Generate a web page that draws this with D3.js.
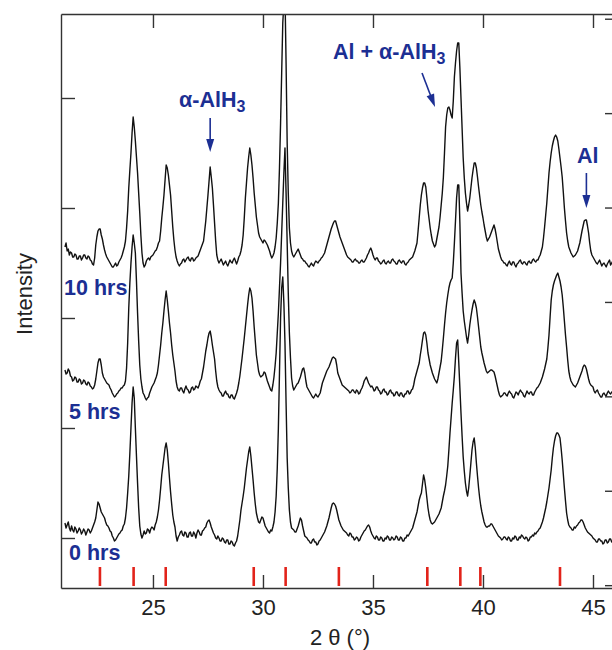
<!DOCTYPE html>
<html>
<head>
<meta charset="utf-8">
<script src="https://cdn.jsdelivr.net/npm/d3@7"></script>
<style>
  body { margin: 0; background: #fff; }
  svg { display: block; }
  text { font-family: "Liberation Sans", Arial, Helvetica, sans-serif; }
</style>
</head>
<body>
<svg id="chart" width="612" height="650"></svg>
<script>
// XRD scans sampled every 0.05 degree of 2-theta, from 21.00 to 46.00
// (one row per degree: x.00, x.05, ... x.95)
const twoThetaStart = 21.0;
const twoThetaStep = 0.05;

const counts0h = [
  65, 60, 63, 66, 60, 57, 62, 58, 56, 61, 59, 55, 57, 60, 58, 54, 56, 59, 57, 53,
  56, 59, 58, 55, 57, 60, 63, 66, 70, 78, 86, 84, 80, 76, 74, 72, 70, 66, 63, 62,
  60, 57, 56, 52, 50, 47, 48, 50, 52, 54, 55, 57, 58, 62, 64, 70, 80, 95, 112, 135,
  160, 185, 201, 190, 160, 132, 105, 80, 62, 54, 50, 53, 57, 54, 55, 59, 58, 55, 59, 61,
  60, 58, 63, 66, 71, 78, 88, 100, 113, 122, 131, 140, 145, 138, 125, 110, 96, 84, 73, 66,
  61, 52, 47, 51, 53, 56, 57, 53, 52, 56, 55, 51, 51, 55, 56, 52, 52, 56, 54, 50,
  55, 58, 56, 53, 53, 57, 58, 60, 61, 65, 67, 68, 65, 61, 58, 55, 53, 50, 49, 52,
  50, 47, 47, 50, 49, 46, 45, 48, 48, 44, 44, 47, 46, 43, 42, 45, 47, 52, 60, 68,
  78, 85, 92, 100, 110, 120, 128, 136, 141, 132, 120, 108, 95, 84, 75, 70, 66, 65, 68, 71,
  70, 66, 62, 60, 58, 56, 55, 58, 57, 61, 66, 76, 92, 120, 160, 215, 270, 300, 311, 285,
  245, 185, 130, 100, 78, 66, 60, 59, 58, 56, 56, 59, 62, 66, 70, 68, 62, 57, 52, 51,
  50, 48, 47, 45, 45, 48, 49, 46, 46, 43, 44, 47, 48, 50, 52, 54, 56, 59, 62, 66,
  70, 75, 80, 84, 85, 84, 82, 78, 73, 68, 65, 62, 60, 58, 57, 56, 55, 53, 52, 55,
  54, 51, 51, 48, 49, 51, 50, 47, 48, 51, 53, 55, 57, 58, 60, 62, 63, 61, 57, 54,
  52, 50, 49, 52, 51, 48, 48, 51, 50, 47, 47, 50, 49, 52, 51, 48, 48, 51, 50, 48,
  49, 52, 51, 48, 48, 51, 50, 47, 47, 50, 50, 53, 52, 54, 56, 58, 60, 64, 68, 72,
  76, 82, 88, 92, 95, 104, 113, 108, 100, 90, 80, 73, 68, 65, 64, 65, 66, 68, 70, 72,
  74, 77, 80, 86, 92, 97, 103, 112, 122, 138, 155, 170, 185, 198, 212, 230, 245, 248, 225, 200,
  175, 152, 131, 117, 105, 97, 92, 100, 112, 125, 138, 146, 150, 140, 125, 112, 100, 90, 82, 76,
  71, 66, 63, 61, 61, 62, 62, 64, 64, 62, 60, 58, 56, 54, 52, 51, 50, 48, 49, 51,
  51, 49, 48, 51, 50, 47, 47, 50, 49, 52, 51, 48, 48, 51, 50, 53, 52, 50, 49, 51,
  50, 47, 48, 51, 51, 53, 52, 55, 54, 56, 57, 59, 60, 63, 66, 70, 75, 80, 86, 93,
  100, 109, 118, 130, 140, 147, 152, 155, 155, 153, 150, 140, 128, 114, 100, 87, 75, 68, 63, 61,
  60, 58, 58, 61, 60, 62, 63, 65, 66, 68, 68, 66, 63, 60, 58, 56, 55, 54, 53, 52,
  50, 49, 48, 46, 46, 49, 49, 47, 47, 44, 45, 48, 48, 45, 46, 49, 49, 46, 47, 49,
  48
];

const counts5h = [
  73, 69, 70, 74, 72, 67, 66, 62, 63, 66, 65, 61, 61, 64, 63, 59, 60, 63, 62, 59,
  58, 61, 60, 57, 56, 54, 55, 58, 64, 72, 80, 84, 84, 78, 70, 66, 64, 62, 60, 59,
  58, 55, 53, 50, 48, 46, 47, 49, 50, 52, 53, 55, 55, 57, 58, 62, 75, 100, 135, 160,
  180, 196, 208, 200, 190, 162, 130, 102, 78, 64, 56, 50, 48, 45, 43, 45, 46, 50, 53, 56,
  58, 60, 63, 66, 70, 78, 88, 98, 110, 120, 132, 143, 152, 143, 132, 120, 110, 98, 88, 80,
  72, 62, 56, 53, 52, 55, 55, 52, 50, 54, 57, 54, 53, 50, 51, 55, 56, 53, 54, 57,
  56, 55, 58, 62, 64, 70, 76, 84, 92, 98, 105, 110, 112, 106, 98, 91, 84, 72, 62, 56,
  53, 51, 50, 47, 47, 50, 52, 49, 49, 46, 45, 48, 48, 45, 44, 47, 50, 54, 60, 67,
  76, 85, 95, 105, 116, 127, 138, 148, 155, 152, 145, 132, 116, 102, 88, 80, 72, 68, 66, 67,
  68, 71, 70, 66, 62, 59, 56, 53, 52, 58, 66, 77, 90, 110, 130, 155, 180, 210, 240, 270,
  295, 250, 200, 150, 110, 85, 65, 57, 53, 55, 57, 59, 60, 63, 66, 70, 74, 75, 70, 62,
  56, 54, 52, 50, 48, 46, 45, 47, 49, 47, 46, 48, 50, 55, 60, 63, 66, 69, 72, 74,
  76, 79, 82, 85, 86, 85, 84, 78, 70, 67, 64, 61, 58, 57, 56, 55, 54, 53, 52, 50,
  51, 53, 53, 51, 50, 53, 52, 49, 50, 53, 55, 58, 62, 64, 66, 63, 60, 58, 56, 57,
  55, 52, 53, 56, 56, 53, 52, 49, 50, 53, 54, 51, 51, 48, 49, 52, 53, 50, 50, 47,
  48, 51, 51, 48, 47, 50, 50, 47, 46, 49, 49, 52, 52, 49, 50, 53, 54, 58, 64, 68,
  72, 76, 80, 88, 95, 103, 110, 111, 108, 100, 90, 84, 78, 74, 70, 67, 64, 62, 60, 64,
  70, 76, 82, 93, 105, 118, 130, 140, 148, 155, 160, 163, 165, 180, 200, 222, 245, 258, 258, 220,
  170, 150, 132, 122, 114, 106, 100, 108, 118, 126, 133, 139, 143, 140, 135, 126, 116, 106, 96, 90,
  85, 80, 76, 72, 70, 71, 72, 73, 73, 72, 71, 67, 62, 57, 52, 48, 46, 47, 48, 50,
  50, 48, 47, 50, 52, 50, 49, 46, 45, 48, 51, 50, 48, 51, 53, 51, 50, 47, 46, 49,
  52, 50, 49, 51, 51, 48, 48, 51, 53, 55, 56, 58, 60, 63, 66, 70, 74, 79, 84, 95,
  108, 126, 143, 152, 158, 162, 165, 168, 170, 166, 162, 156, 148, 136, 122, 108, 96, 83, 72, 66,
  62, 60, 58, 57, 56, 58, 60, 63, 66, 69, 72, 76, 78, 77, 74, 69, 64, 60, 58, 57,
  56, 52, 50, 52, 53, 50, 48, 46, 46, 49, 50, 48, 47, 50, 52, 50, 49, 51, 51, 48,
  50
];

const counts10h = [
  66, 70, 62, 64, 58, 61, 60, 56, 56, 59, 58, 54, 54, 57, 57, 53, 55, 58, 58, 55,
  54, 57, 56, 53, 52, 49, 48, 55, 68, 76, 82, 84, 84, 78, 74, 68, 63, 59, 56, 54,
  52, 50, 48, 46, 46, 48, 50, 47, 48, 51, 53, 55, 58, 62, 66, 72, 85, 102, 125, 143,
  160, 180, 196, 186, 172, 156, 140, 120, 100, 78, 60, 50, 46, 48, 52, 54, 55, 53, 56, 57,
  58, 60, 62, 63, 66, 70, 72, 82, 95, 106, 118, 133, 148, 145, 138, 128, 118, 102, 86, 73,
  63, 56, 52, 49, 47, 49, 50, 53, 54, 51, 53, 55, 56, 53, 52, 55, 55, 52, 53, 55,
  56, 57, 60, 63, 66, 69, 72, 82, 92, 105, 118, 132, 146, 136, 125, 108, 90, 72, 58, 53,
  50, 52, 54, 51, 48, 50, 52, 49, 47, 50, 53, 51, 50, 53, 55, 52, 49, 52, 56, 58,
  62, 68, 78, 95, 115, 130, 145, 156, 165, 158, 148, 135, 120, 108, 96, 88, 80, 76, 74, 72,
  70, 73, 72, 70, 68, 65, 62, 58, 55, 57, 60, 66, 75, 90, 110, 145, 190, 240, 290, 310,
  320, 250, 170, 120, 85, 70, 62, 58, 56, 58, 60, 62, 64, 61, 58, 55, 54, 52, 52, 50,
  49, 47, 46, 48, 50, 48, 47, 50, 52, 51, 50, 52, 53, 55, 56, 58, 60, 64, 68, 72,
  76, 80, 84, 87, 90, 92, 92, 88, 84, 80, 76, 73, 70, 67, 64, 61, 58, 56, 55, 54,
  53, 51, 51, 53, 54, 52, 52, 50, 50, 52, 53, 51, 51, 53, 55, 58, 60, 63, 65, 62,
  58, 55, 53, 55, 55, 52, 51, 49, 50, 52, 53, 50, 49, 51, 52, 50, 50, 53, 54, 52,
  51, 49, 49, 52, 53, 51, 50, 52, 52, 49, 48, 50, 51, 53, 54, 55, 56, 59, 62, 66,
  70, 82, 95, 108, 118, 125, 130, 130, 126, 115, 103, 94, 85, 78, 72, 69, 66, 68, 74, 80,
  86, 96, 108, 120, 136, 160, 186, 198, 205, 206, 203, 198, 195, 212, 236, 250, 262, 270, 270, 245,
  215, 185, 155, 135, 120, 110, 102, 108, 115, 125, 135, 143, 150, 150, 145, 136, 126, 117, 108, 101,
  95, 88, 82, 76, 72, 74, 76, 79, 82, 85, 88, 84, 78, 71, 64, 60, 56, 53, 52, 50,
  50, 48, 47, 50, 52, 49, 48, 51, 51, 48, 46, 49, 50, 52, 53, 50, 49, 51, 51, 49,
  48, 51, 52, 50, 50, 53, 54, 52, 51, 53, 53, 56, 58, 62, 66, 75, 86, 98, 110, 125,
  140, 151, 160, 167, 172, 176, 178, 176, 172, 164, 155, 146, 136, 121, 105, 92, 80, 72, 66, 63,
  60, 58, 56, 57, 58, 60, 62, 66, 70, 76, 82, 87, 92, 93, 93, 87, 80, 70, 62, 58,
  56, 54, 52, 50, 49, 51, 53, 50, 47, 49, 50, 48, 46, 49, 51, 53, 48, 50, 52, 51,
  50
];

const seriesNames = ["0 hrs", "5 hrs", "10 hrs"];
const seriesCounts = [counts0h, counts5h, counts10h];
const seriesOffsets = [0, 145, 275];

// reference reflection positions (2-theta, degrees)
const refPeaks = [22.59, 24.12, 25.58, 29.58, 31.03, 33.45, 37.47, 38.97, 39.88, 43.5];

const xTicks = [25, 30, 35, 40, 45];
const leftTicks = [50, 160, 270, 380, 490];
const rightTicks = [0, 1, 2, 3, 4, 5, 6];

// ---- layout ----
const svg = d3.select("#chart");
const L = 61, R = 615, T = 14, B = 588;
const axisColor = "#333";
const navy = "#1c2f93";

const x = d3.scaleLinear().domain([20.82, 46.0]).range([L, R]);
const y = d3.scaleLinear().domain([0, 574]).range([B, T]);
const yRight = d3.scaleLinear().domain([-0.03, 6.05]).range([B, T]);

svg.append("rect").attr("width", 612).attr("height", 650).attr("fill", "#fff");

svg.append("defs").append("clipPath").attr("id", "plotClip")
  .append("rect").attr("x", L).attr("y", T).attr("width", R - L).attr("height", B - T);

// ---- traces ----
const line = d3.line()
  .x((d, i) => x(twoThetaStart + i * twoThetaStep))
  .y(d => y(d));

const traces = svg.append("g").attr("clip-path", "url(#plotClip)");
seriesCounts.forEach((counts, k) => {
  traces.append("path")
    .datum(counts.map(c => c + seriesOffsets[k]))
    .attr("d", line)
    .attr("fill", "none")
    .attr("stroke", "#111")
    .attr("stroke-width", 1.4)
    .attr("stroke-linejoin", "round");
});

// ---- reference peak markers ----
svg.append("g").selectAll("line").data(refPeaks).join("line")
  .attr("x1", d => x(d)).attr("x2", d => x(d))
  .attr("y1", 567).attr("y2", 586)
  .attr("stroke", "#e2231a").attr("stroke-width", 2.6);

// ---- axes ----
function styleAxis(g) {
  g.selectAll(".domain").attr("stroke", axisColor).attr("stroke-width", 1.4);
  g.selectAll(".tick line").attr("stroke", axisColor).attr("stroke-width", 1.4);
}

svg.append("g").attr("transform", `translate(0,${B})`)
  .call(d3.axisBottom(x).tickValues(xTicks).tickSizeInner(-13).tickSizeOuter(0).tickPadding(11))
  .call(styleAxis)
  .call(g => g.selectAll(".tick text").attr("font-size", 22).attr("fill", "#222")
    .attr("font-family", "'Liberation Sans', Arial, Helvetica, sans-serif"));

svg.append("g").attr("transform", `translate(0,${T})`)
  .call(d3.axisTop(x).tickValues(xTicks).tickSizeInner(-14).tickSizeOuter(0).tickFormat(""))
  .call(styleAxis);

svg.append("g").attr("transform", `translate(${L},0)`)
  .call(d3.axisLeft(y).tickValues(leftTicks).tickSizeInner(-14).tickSizeOuter(0).tickFormat(""))
  .call(styleAxis);

svg.append("g").attr("transform", `translate(${R},0)`)
  .call(d3.axisRight(yRight).tickValues(rightTicks).tickSizeInner(-10).tickSizeOuter(0).tickFormat(""))
  .call(styleAxis);

// ---- axis titles ----
svg.append("text")
  .attr("x", 340).attr("y", 645)
  .attr("text-anchor", "middle").attr("font-size", 22).attr("fill", "#222")
  .text("2 θ (°)");

svg.append("text")
  .attr("transform", "translate(32,294) rotate(-90)")
  .attr("text-anchor", "middle").attr("font-size", 22).attr("fill", "#222")
  .text("Intensity");

// ---- series labels ----
const labelPos = [[69, 560], [69, 419], [64, 295]];
svg.append("g").selectAll("text").data(seriesNames).join("text")
  .attr("x", (d, i) => labelPos[i][0])
  .attr("y", (d, i) => labelPos[i][1])
  .attr("font-size", 21.5).attr("font-weight", "bold").attr("fill", navy)
  .text(d => d);

// ---- phase annotations ----
function arrow(x1, y1, x2, y2) {
  const len = Math.hypot(x2 - x1, y2 - y1);
  const ux = (x2 - x1) / len, uy = (y2 - y1) / len;
  const head = 13, half = 4;
  const bx = x2 - ux * head, by = y2 - uy * head;
  svg.append("line")
    .attr("x1", x1).attr("y1", y1).attr("x2", bx + ux * 2).attr("y2", by + uy * 2)
    .attr("stroke", navy).attr("stroke-width", 1.6);
  svg.append("path")
    .attr("d", `M${x2},${y2} L${bx - uy * half},${by + ux * half} L${bx + uy * half},${by - ux * half} Z`)
    .attr("fill", navy);
}

function phaseLabel(x0, y0, main, sub) {
  const t = svg.append("text")
    .attr("x", x0).attr("y", y0)
    .attr("font-size", 21.5).attr("font-weight", "bold").attr("fill", navy);
  t.append("tspan").text(main);
  if (sub) t.append("tspan").attr("dy", 5).attr("font-size", 16).text(sub);
}

phaseLabel(179, 107, "α-AlH", "3");
arrow(x(27.6), 118, x(27.6), 152);

phaseLabel(333, 59, "Al + α-AlH", "3");
arrow(422, 73, 435, 107);

phaseLabel(577, 163, "Al", null);
arrow(x(44.7), 173, x(44.7), 208);
</script>
</body>
</html>
